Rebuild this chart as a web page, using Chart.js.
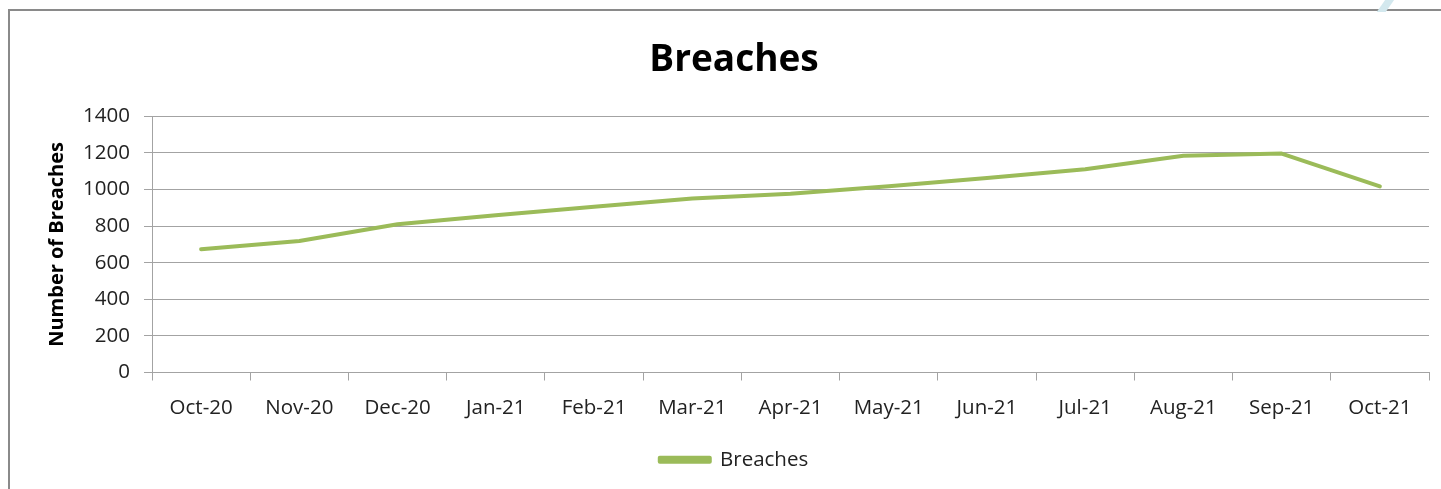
<!DOCTYPE html>
<html>
<head>
<meta charset="utf-8">
<script src="https://cdn.jsdelivr.net/npm/chart.js@4/dist/chart.umd.min.js"></script>
<style>
  html, body { margin: 0; padding: 0; background: #fff; overflow: hidden; }
  #wrap { position: relative; width: 1441px; height: 489px; }
  #frame { position: absolute; left: 8px; top: 9px; width: 1500px; height: 600px; border: 2px solid #8a8a8a; box-sizing: border-box; }
  #mark { position: absolute; left: 1383px; top: -6px; width: 9px; height: 18px; background: #d3e8ee; transform: skewX(-35deg); }
  canvas { position: absolute; left: 0; top: 0; }
</style>
</head>
<body>
<div id="wrap">
  <div id="frame"></div>
  <div id="mark"></div>
  <canvas id="chart" width="1441" height="489"></canvas>
</div>
<script>
const months = ['Oct-20', 'Nov-20', 'Dec-20', 'Jan-21', 'Feb-21', 'Mar-21', 'Apr-21',
  'May-21', 'Jun-21', 'Jul-21', 'Aug-21', 'Sep-21', 'Oct-21'];
const breaches = [674, 719, 810, 860, 906, 951, 977, 1018, 1063, 1111, 1185, 1197, 1017];
const yTicks = { min: 0, max: 1400, step: 200 };

const font = "'Open Sans', 'DejaVu Sans', sans-serif";
const green = '#9bbb59';
const gridGray = '#a3a3a3';

const ctx = document.getElementById('chart').getContext('2d');
new Chart(ctx, {
  type: 'line',
  data: {
    labels: months,
    datasets: [{
      label: 'Breaches',
      data: breaches,
      borderColor: green,
      backgroundColor: green,
      borderWidth: 4,
      borderCapStyle: 'round',
      borderJoinStyle: 'round',
      pointRadius: 0,
      tension: 0,
      fill: false
    }]
  },
  options: {
    responsive: false,
    animation: false,
    layout: { padding: { left: 39, right: 12, top: 0, bottom: 9 } },
    scales: {
      x: {
        offset: true,
        grid: { display: true, drawOnChartArea: false, drawTicks: true, tickLength: 8, color: gridGray, offset: true },
        border: { color: gridGray, width: 1 },
        ticks: { color: '#222', font: { family: font, size: 20.5 }, padding: 15, maxRotation: 0, autoSkip: false },
        afterFit: s => { s.height = 67; }
      },
      y: {
        min: yTicks.min,
        max: yTicks.max,
        ticks: {
          stepSize: yTicks.step, color: '#222', font: { family: font, size: 20.5 }, padding: 14,
          callback: v => String(v)
        },
        grid: { color: gridGray, lineWidth: 1, tickLength: 8 },
        border: { color: gridGray, width: 1 },
        title: { display: true, text: 'Number of Breaches', color: '#000', font: { family: font, size: 20, weight: 'bold' }, padding: { top: 6, bottom: 0 } },
        afterFit: s => { s.width = 113; }
      }
    },
    plugins: {
      title: {
        display: true,
        text: 'Breaches',
        color: '#000',
        font: { family: font, size: 37, weight: 'bold' },
        padding: { top: 38, bottom: 34 }
      },
      legend: {
        display: true,
        position: 'bottom',
        labels: { color: '#222', font: { family: font, size: 20.5 }, boxWidth: 50, boxHeight: 4, padding: 10 }
      },
      tooltip: { enabled: false }
    }
  }
});
</script>
</body>
</html>
